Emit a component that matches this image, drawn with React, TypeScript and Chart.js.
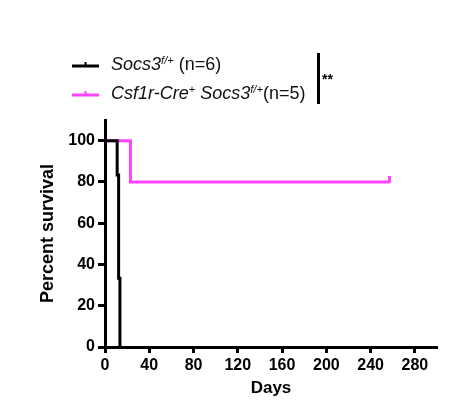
import React, { useEffect, useRef } from "react";
import { Chart, registerables } from "chart.js";

Chart.register(...registerables);

// Kaplan–Meier survival data (days, percent survival)
const controlDays = [0, 11, 12.3, 13.5];
const controlSurvival = [100, 83.33, 33.33, 0];
const cfsDays = [0, 23, 257];
const cfsSurvival = [100, 80, 80];
const xTicks = [0, 40, 80, 120, 160, 200, 240, 280];
const yTicks = [0, 20, 40, 60, 80, 100];
const seriesLabels = ["Socs3 f/+ (n=6)", "Csf1r-Cre+ Socs3 f/+ (n=5)"];
const BLACK = "#000000";
const MAGENTA = "#ff44ff";
const FONT = "'Liberation Sans', Arial, Helvetica, sans-serif";

function censorMark(color: string): HTMLCanvasElement {
  const c = document.createElement("canvas");
  c.width = 3;
  c.height = 12;
  const ctx = c.getContext("2d");
  if (ctx) {
    ctx.fillStyle = color;
    ctx.fillRect(0, 0, 3, 7);
  }
  return c;
}

export default function App() {
  const ref = useRef<HTMLCanvasElement | null>(null);

  useEffect(() => {
    if (!ref.current) return;
    const mark = censorMark(MAGENTA);
    const chart = new Chart(ref.current, {
      type: "line",
      data: {
        datasets: [
          {
            label: seriesLabels[0],
            data: controlDays.map((d, i) => ({ x: d, y: controlSurvival[i] })),
            borderColor: BLACK,
            backgroundColor: BLACK,
            borderWidth: 3,
            stepped: "before",
            pointRadius: 0,
            clip: false as any,
          },
          {
            label: seriesLabels[1],
            data: cfsDays.map((d, i) => ({ x: d, y: cfsSurvival[i] })),
            borderColor: MAGENTA,
            backgroundColor: MAGENTA,
            borderWidth: 3,
            stepped: "before",
            pointRadius: cfsDays.map((_, i) => (i === cfsDays.length - 1 ? 4 : 0)),
            pointStyle: mark as any,
            clip: false as any,
          },
        ],
      },
      options: {
        animation: false,
        responsive: false,
        maintainAspectRatio: false,
        layout: { padding: { left: 0, right: 9, top: 112, bottom: 0 } },
        plugins: { legend: { display: false }, tooltip: { enabled: false } },
        scales: {
          x: {
            type: "linear",
            min: 0,
            max: 300,
            afterFit: (s: any) => {
              s.height = 50;
            },
            afterBuildTicks: (s: any) => {
              s.ticks = xTicks.map((v) => ({ value: v }));
            },
            grid: {
              drawOnChartArea: false,
              tickLength: 6,
              tickWidth: 3,
              tickColor: BLACK,
            },
            border: { color: BLACK, width: 3 },
            ticks: {
              color: BLACK,
              padding: 3,
              maxRotation: 0,
              font: { family: FONT, size: 16, weight: "bold" },
            },
            title: {
              display: true,
              text: "Days",
              color: BLACK,
              padding: 0,
              font: { family: FONT, size: 17, weight: "bold", lineHeight: 1 },
            },
          },
          y: {
            type: "linear",
            min: 0,
            max: 110,
            afterFit: (s: any) => {
              s.width = 97;
            },
            afterBuildTicks: (s: any) => {
              s.ticks = yTicks.map((v) => ({ value: v }));
            },
            grid: {
              drawOnChartArea: false,
              tickLength: 7,
              tickWidth: 3,
              tickColor: BLACK,
            },
            border: { color: BLACK, width: 3 },
            ticks: {
              color: BLACK,
              padding: 3,
              font: { family: FONT, size: 16, weight: "bold" },
            },
            title: {
              display: true,
              text: "Percent survival",
              color: BLACK,
              padding: { top: 31, bottom: 0 },
              font: { family: FONT, size: 18, weight: "bold", lineHeight: 1 },
            },
          },
        },
      },
    });
    return () => chart.destroy();
  }, []);

  const sample = (color: string) => (
    <svg width={28} height={10} style={{ position: "absolute", left: 0, top: -5 }}>
      <line x1={0} y1={7} x2={27} y2={7} stroke={color} strokeWidth={3} />
      <line x1={13.5} y1={3} x2={13.5} y2={7} stroke={color} strokeWidth={2} />
    </svg>
  );

  const textStyle: React.CSSProperties = {
    position: "absolute",
    left: 39,
    top: -11,
    fontFamily: FONT,
    fontSize: 18,
    lineHeight: "22px",
    whiteSpace: "nowrap",
    color: "#111",
  };
  const supStyle: React.CSSProperties = {
    fontSize: "0.62em",
    verticalAlign: "0.55em",
    lineHeight: 0,
  };

  return (
    <div style={{ position: "relative", width: 438, height: 389 }}>
      <canvas ref={ref} width={438} height={389} style={{ position: "absolute", left: 0, top: 0 }} />
      <div style={{ position: "absolute", left: 64, top: 56 }}>
        {sample(BLACK)}
        <span style={textStyle}>
          <i>Socs3</i>
          <i style={supStyle}>f/+</i> (n=6)
        </span>
      </div>
      <div style={{ position: "absolute", left: 64, top: 85 }}>
        {sample(MAGENTA)}
        <span style={textStyle}>
          <i>Csf1r-Cre</i>
          <span style={supStyle}>+</span> <i>Socs3</i>
          <i style={supStyle}>f/+</i>(n=5)
        </span>
      </div>
      <div style={{ position: "absolute", left: 309, top: 45, width: 3, height: 51, background: BLACK }} />
      <div
        style={{
          position: "absolute",
          left: 314,
          top: 64,
          fontFamily: FONT,
          fontWeight: "bold",
          fontSize: 14,
          lineHeight: "14px",
          color: BLACK,
        }}
      >
        **
      </div>
    </div>
  );
}
